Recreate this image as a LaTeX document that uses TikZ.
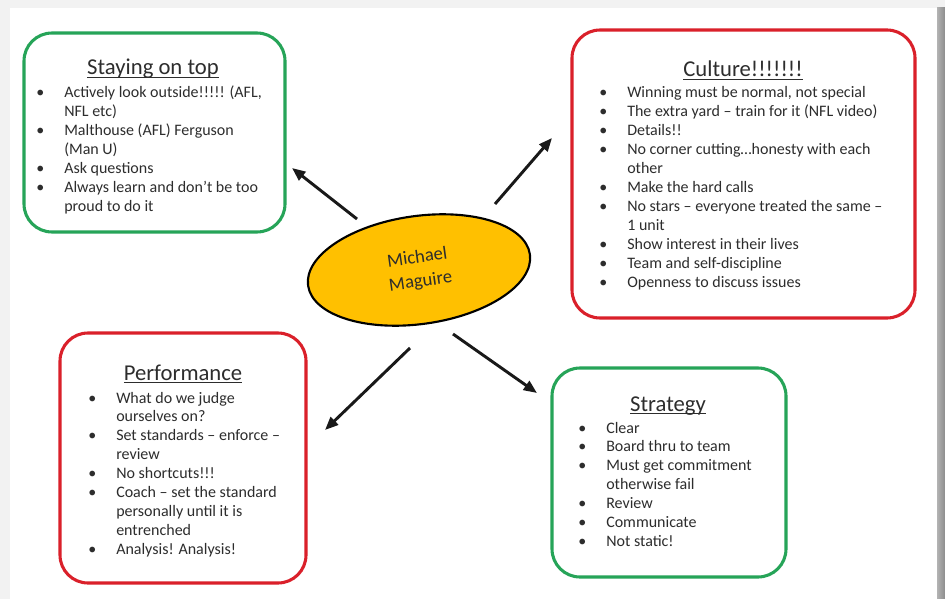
\documentclass[tikz,border=0pt]{standalone}
\usepackage{fontspec}
\setmainfont{Carlito}
\usetikzlibrary{arrows.meta,shapes.geometric}

\definecolor{boxgreen}{RGB}{38,164,88}
\definecolor{boxred}{RGB}{218,32,42}
\definecolor{mmyellow}{RGB}{255,192,0}
\definecolor{inkgray}{RGB}{45,45,45}

% underlined heading with the rule just under the baseline
\newcommand{\headline}[1]{\setbox0\hbox{#1}\rlap{\rule[-2.2pt]{\wd0}{0.8pt}}\box0}
\newcommand{\itm}[1]{\makebox[0pt]{\textbullet}\hspace{18pt}#1\\}
\newcommand{\cnt}[1]{\hspace{18pt}#1\\}

\begin{document}
\begin{tikzpicture}[x=0.75pt, y=-0.75pt, >={Triangle[length=10pt,width=8pt]}]
	\tikzset{
		card/.style={draw, line width=2.3pt, rounded corners=21pt, inner sep=0pt, fill=white},
		greencard/.style={card, draw=boxgreen},
		redcard/.style={card, draw=boxred},
		heading/.style={font=\fontsize{17}{20}\selectfont, text=inkgray, inner sep=0pt, anchor=base},
		points/.style={font=\fontsize{12}{14.2}\selectfont, text=inkgray, inner sep=0pt, anchor=base west},
		spoke/.style={->, line width=2.2pt, black!90},
	}
	% page with its drop shadow
	\fill[black!5] (0,0) rectangle (945,599);
	\fill[white] (10,8) rectangle (937,599);
	\shade[left color=black!30, right color=black!45] (937,8) rectangle (945,599);
	\useasboundingbox (0,0) rectangle (945,599);

	% the four cards
	\node[greencard, minimum width=195.75pt, minimum height=149.25pt] (stay) at (154.5,132.5) {};
	\node[redcard, minimum width=257.25pt, minimum height=216pt] (culture) at (743.5,174) {};
	\node[redcard, minimum width=184.5pt, minimum height=187.5pt] (perf) at (183,458) {};
	\node[greencard, minimum width=175.5pt, minimum height=156.75pt] (strat) at (669,472.5) {};

	\node[heading] (stayHead) at (153,75) {\headline{Staying on top}};
	\node[points] (stayList) at (40,98) {\begin{tabular}[t]{@{}l@{}}
		\itm{Actively look outside!!!!! (AFL,}
		\cnt{NFL etc)}
		\itm{Malthouse (AFL) Ferguson}
		\cnt{(Man U)}
		\itm{Ask questions}
		\itm{Always learn and don’t be too}
		\cnt{proud to do it}
	\end{tabular}};

	\node[heading] (cultureHead) at (743,77) {\headline{Culture!!!!!!!}};
	\node[points] (cultureList) at (603,98) {\begin{tabular}[t]{@{}l@{}}
		\itm{Winning must be normal, not special}
		\itm{The extra yard – train for it (NFL video)}
		\itm{Details!!}
		\itm{No corner cutting…honesty with each}
		\cnt{other}
		\itm{Make the hard calls}
		\itm{No stars – everyone treated the same –}
		\cnt{1 unit}
		\itm{Show interest in their lives}
		\itm{Team and self-discipline}
		\itm{Openness to discuss issues}
	\end{tabular}};

	\node[heading] (perfHead) at (183,380) {\headline{Performance}};
	\node[points] (perfList) at (92,403) {\begin{tabular}[t]{@{}l@{}}
		\itm{What do we judge}
		\cnt{ourselves on?}
		\itm{Set standards – enforce –}
		\cnt{review}
		\itm{No shortcuts!!!}
		\itm{Coach – set the standard}
		\cnt{personally until it is}
		\cnt{entrenched}
		\itm{Analysis! Analysis!}
	\end{tabular}};

	\node[heading] (stratHead) at (668,411) {\headline{Strategy}};
	\node[points] (stratList) at (582,433) {\begin{tabular}[t]{@{}l@{}}
		\itm{Clear}
		\itm{Board thru to team}
		\itm{Must get commitment}
		\cnt{otherwise fail}
		\itm{Review}
		\itm{Communicate}
		\itm{Not static!}
	\end{tabular}};

	% centre ellipse
	\node[ellipse, draw=black, line width=1.6pt, fill=mmyellow, rotate=8,
		minimum width=168pt, minimum height=81pt, inner sep=0pt, align=center,
		text=inkgray, font=\fontsize{14}{18}\selectfont] (mm) at (419,270) {Michael\\Maguire};

	% spokes out to the cards
	\coordinate (toStay) at (292,168);
	\coordinate (toCulture) at (552,138);
	\coordinate (toPerf) at (325,430);
	\coordinate (toStrat) at (537,393);
	\draw[spoke] (357,219) -- (toStay);
	\draw[spoke] (495,204) -- (toCulture);
	\draw[spoke] (410,348) -- (toPerf);
	\draw[spoke] (453,334) -- (toStrat);
\end{tikzpicture}
\end{document}
